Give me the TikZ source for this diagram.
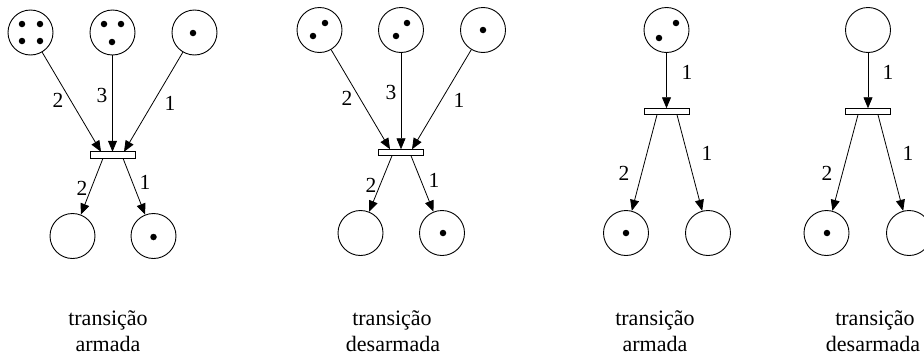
\documentclass[tikz,border=0pt]{standalone}
\usepackage{fontspec}
\setmainfont{Liberation Serif}
\usetikzlibrary{arrows.meta}
\begin{document}
\begin{tikzpicture}[x=1pt,y=-1pt,
  place/.style={circle,draw,line width=0.9pt,minimum size=45pt,inner sep=0pt},
  trans/.style={rectangle,draw,line width=0.9pt,minimum width=45pt,minimum height=6.5pt,inner sep=0pt},
  tok/.style={circle,fill,inner sep=0pt,minimum size=6.5pt},
  arc/.style={line width=0.8pt,-{Triangle[length=11pt,width=9pt]}},
  lab/.style={font=\fontsize{21.5}{24}\selectfont,inner sep=0pt},
  captext/.style={font=\fontsize{22}{26}\selectfont,anchor=base,inner sep=0pt}]
\useasboundingbox (0,0) rectangle (924,359);
\clip (0,0) rectangle (924,359);

% ---------- panel 1 ----------
\node[place] (a1) at (30.5,32.5) {};
\node[place] (a2) at (112.5,32.5) {};
\node[place] (a3) at (194.5,32.5) {};
\node[trans] (at) at (112.5,155) {};
\node[place] (a4) at (72.5,236) {};
\node[place] (a5) at (153.5,236) {};
\coordinate (ai1) at (101,151.75);
\coordinate (ai2) at (112.5,151.75);
\coordinate (ai3) at (124,151.75);
\coordinate (ao1) at (103,158.25);
\coordinate (ao2) at (123,158.25);
\draw[arc] (a1) -- (ai1);
\draw[arc] (a2) -- (ai2);
\draw[arc] (a3) -- (ai3);
\draw[arc] (ao1) -- (a4);
\draw[arc] (ao2) -- (a5);
\node[tok] (a1k1) at (22,24) {};
\node[tok] (a1k2) at (40,24) {};
\node[tok] (a1k3) at (22,41) {};
\node[tok] (a1k4) at (40,41) {};
\node[tok] (a2k1) at (104,24) {};
\node[tok] (a2k2) at (121,24) {};
\node[tok] (a2k3) at (112,42) {};
\node[tok] (a3k1) at (193,33) {};
\node[tok] (a5k1) at (153.5,237) {};
\node[lab] (al1) at (58,100) {2};
\node[lab] (al2) at (102,95) {3};
\node[lab] (al3) at (170,103) {1};
\node[lab] (al4) at (82,188) {2};
\node[lab] (al5) at (145,182) {1};
\node[captext] (ac1) at (108,325) {transição};
\node[captext] (ac2) at (108,351) {armada};

% ---------- panel 2 ----------
\node[place] (b1) at (319.5,30) {};
\node[place] (b2) at (401,30) {};
\node[place] (b3) at (483,30) {};
\node[trans] (bt) at (401,152.5) {};
\node[place] (b4) at (360.5,233) {};
\node[place] (b5) at (442,233) {};
\coordinate (bi1) at (390,149.25);
\coordinate (bi2) at (401,149.25);
\coordinate (bi3) at (412,149.25);
\coordinate (bo1) at (392,155.75);
\coordinate (bo2) at (411,155.75);
\draw[arc] (b1) -- (bi1);
\draw[arc] (b2) -- (bi2);
\draw[arc] (b3) -- (bi3);
\draw[arc] (bo1) -- (b4);
\draw[arc] (bo2) -- (b5);
\node[tok] (b1k1) at (313,36) {};
\node[tok] (b1k2) at (325,23) {};
\node[tok] (b2k1) at (396,36) {};
\node[tok] (b2k2) at (407,23) {};
\node[tok] (b3k1) at (483,30) {};
\node[tok] (b5k1) at (443,233) {};
\node[lab] (bl1) at (347,98) {2};
\node[lab] (bl2) at (391,92) {3};
\node[lab] (bl3) at (459,100) {1};
\node[lab] (bl4) at (371,185) {2};
\node[lab] (bl5) at (434,180) {1};
\node[captext] (bc1) at (392,325) {transição};
\node[captext] (bc2) at (393,351) {desarmada};

% ---------- panel 3 ----------
\node[place] (c1) at (666.5,30) {};
\node[trans] (ct) at (666.5,111.5) {};
\node[place] (c4) at (626,233) {};
\node[place] (c5) at (708,233) {};
\coordinate (ci1) at (666.5,108.25);
\coordinate (co1) at (657,114.75);
\coordinate (co2) at (677,114.75);
\draw[arc] (c1) -- (ci1);
\draw[arc] (co1) -- (c4);
\draw[arc] (co2) -- (c5);
\node[tok] (c1k1) at (659,38) {};
\node[tok] (c1k2) at (676,23) {};
\node[tok] (c4k1) at (626,233) {};
\node[lab] (cl1) at (687,72) {1};
\node[lab] (cl2) at (624,173) {2};
\node[lab] (cl3) at (707,153) {1};
\node[captext] (cc1) at (655,325) {transição};
\node[captext] (cc2) at (655,351) {armada};

% ---------- panel 4 ----------
\node[place] (d1) at (868,30) {};
\node[trans] (dt) at (868,111.5) {};
\node[place] (d4) at (826.5,233) {};
\node[place] (d5) at (909,233) {};
\coordinate (di1) at (868,108.25);
\coordinate (do1) at (858,114.75);
\coordinate (do2) at (878,114.75);
\draw[arc] (d1) -- (di1);
\draw[arc] (do1) -- (d4);
\draw[arc] (do2) -- (d5);
\node[tok] (d4k1) at (827,233) {};
\node[lab] (dl1) at (888,72) {1};
\node[lab] (dl2) at (827,173) {2};
\node[lab] (dl3) at (908,153) {1};
\node[captext] (dc1) at (875,325) {transição};
\node[captext] (dc2) at (873,351) {desarmada};
\end{tikzpicture}
\end{document}
